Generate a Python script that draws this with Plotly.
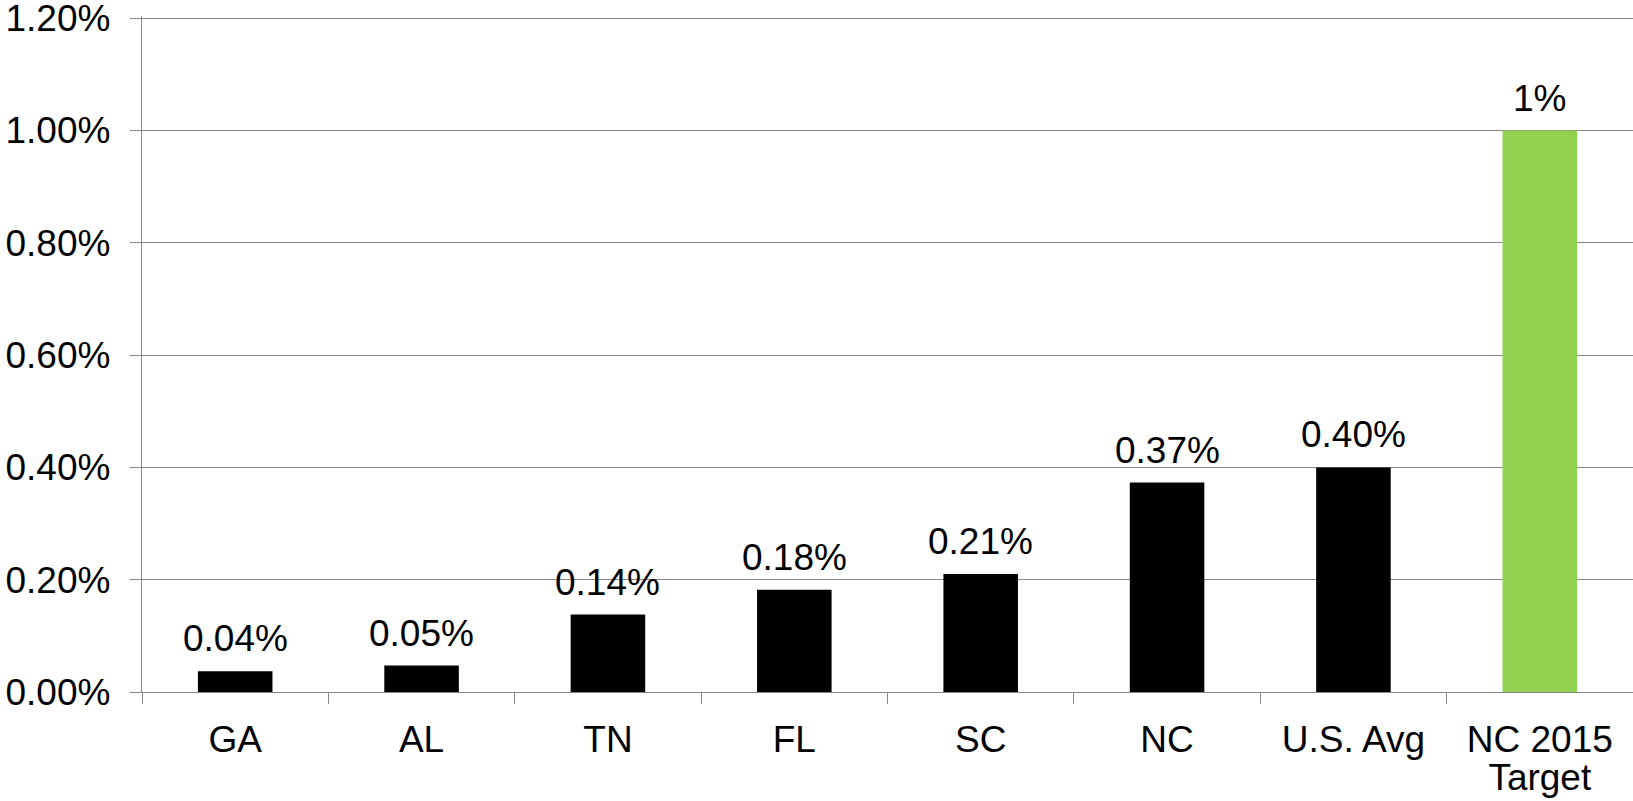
import plotly.graph_objects as go

categories = ["GA", "AL", "TN", "FL", "SC", "NC", "U.S. Avg", "NC 2015 Target"]
tick_lines = [["GA"], ["AL"], ["TN"], ["FL"], ["SC"], ["NC"], ["U.S. Avg"], ["NC 2015", "Target"]]
values = [0.037, 0.047, 0.138, 0.182, 0.210, 0.373, 0.400, 1.000]
labels = ["0.04%", "0.05%", "0.14%", "0.18%", "0.21%", "0.37%", "0.40%", "1%"]
colors = ["#000000"] * 7 + ["#92D050"]
y_ticks = [0.0, 0.2, 0.4, 0.6, 0.8, 1.0, 1.2]
y_ticktext = ["0.00%", "0.20%", "0.40%", "0.60%", "0.80%", "1.00%", "1.20%"]

FONT = "Liberation Sans, Arial, sans-serif"
GRID = "#868686"
FS = 37

# tick labels drawn at FS px, with line spacing based on a smaller base size
x_ticktext = ["<br>".join(f'<span style="font-size:{FS}px">{ln}</span>' for ln in lines)
              for lines in tick_lines]

fig = go.Figure()
fig.add_trace(go.Bar(
    x=categories, y=values,
    marker=dict(color=colors, line=dict(width=0)),
    width=0.4,
    hoverinfo="skip",
))

for c, v, t in zip(categories, values, labels):
    fig.add_annotation(x=c, y=v, text=t, showarrow=False, yanchor="bottom",
                       yshift=10, font=dict(family=FONT, size=FS, color="#000000"))

fig.update_layout(
    template="none",
    width=1633, height=801,
    margin=dict(l=142, r=0, t=16, b=109, autoexpand=False),
    paper_bgcolor="white", plot_bgcolor="white",
    showlegend=False,
    font=dict(family=FONT, size=FS, color="#000000"),
    bargap=0.6,
)
fig.update_xaxes(
    type="category", automargin=False,
    tickvals=categories, ticktext=x_ticktext,
    showline=True, linecolor=GRID, linewidth=1.3,
    ticks="outside", tickson="boundaries", ticklen=11, tickcolor=GRID, tickwidth=1.3,
    showgrid=False,
    tickfont=dict(family=FONT, size=29, color="#000000"),
    ticklabelstandoff=24,
    ticklabeloverflow="allow",
)
fig.update_yaxes(
    range=[0, 1.204], automargin=False,
    tickvals=y_ticks, ticktext=y_ticktext,
    showline=True, linecolor=GRID, linewidth=1.3,
    ticks="outside", ticklen=11, tickcolor=GRID, tickwidth=1.3,
    showgrid=True, gridcolor=GRID, gridwidth=1.3,
    zeroline=False,
    tickfont=dict(family=FONT, size=FS, color="#000000"),
    ticklabelstandoff=12,
    ticklabeloverflow="allow",
)

fig.write_html(
    "out.html",
    config={"displayModeBar": False},
    post_script="document.body.style.margin='0';document.body.style.overflow='hidden';",
)
